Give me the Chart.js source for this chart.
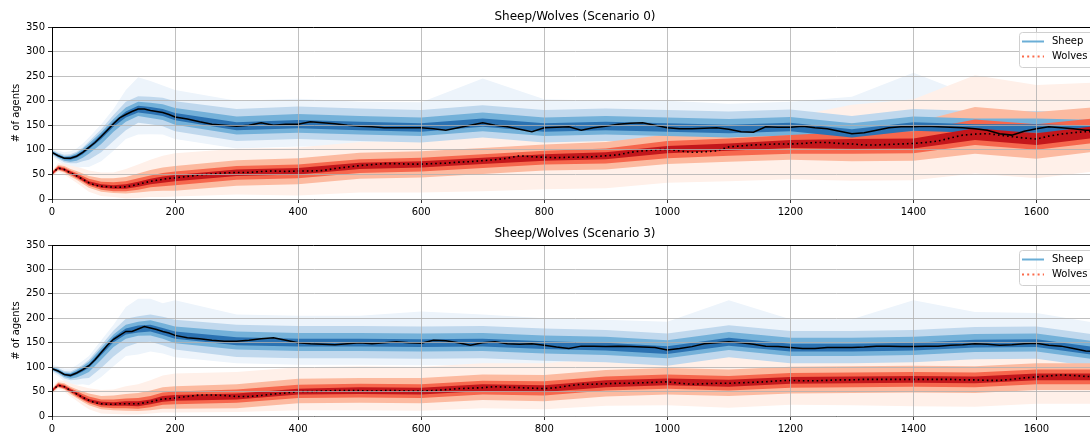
<!DOCTYPE html>
<html lang="en">
<head>
  <meta charset="UTF-8">
  <title>Sheep/Wolves</title>
  <script src="https://cdn.jsdelivr.net/npm/chart.js"></script>
  <style>
    html, body { margin: 0; padding: 0; background: #fff; overflow: hidden; width: 1090px; height: 437px; }
    canvas { position: absolute; left: 0; }
  </style>
</head>
<body>
  <canvas id="scen0" width="1110" height="218" style="top:0"></canvas>
  <canvas id="scen3" width="1110" height="219" style="top:218px"></canvas>
  <script>
    // time steps of the median lines
    const tFine = [0,10,20,30,40,50,60,70,80,90,100,110,120,130,140,150,160,170,180,190,200,
      220,240,260,280,300,320,340,360,380,400,
      420,440,460,480,500,520,540,560,580,600,
      620,640,660,680,700,720,740,760,780,800,
      820,840,860,880,900,920,940,960,980,1000,
      1020,1040,1060,1080,1100,1120,1140,1160,1180,1200,
      1220,1240,1260,1280,1300,1320,1340,1360,1380,1400,
      1420,1440,1460,1480,1500,1520,1540,1560,1580,1600,
      1620,1640,1660,1680,1700];
    // time steps of the quantile bands
    const tBand = [0,10,20,30,40,50,60,80,100,120,140,160,180,200,300,400,500,600,700,800,900,1000,1100,1200,1300,1400,1500,1600,1700];

    const seriesNames = ['Sheep', 'Wolves'];
    const titles = ['Sheep/Wolves (Scenario 0)', 'Sheep/Wolves (Scenario 3)'];
    const yTickVals = [0,50,100,150,200,250,300,350];
    const xTickVals = [0,200,400,600,800,1000,1200,1400,1600];

    // medians
    const sc0Sheep = [95,88,83,83,87,95,105,115,127,140,153,165,172,178,183,183,180,178,176,172,167,
      163,157,152,150,148,150,155,150,152,152,
      157,155,153,150,148,147,145,145,145,145,
      143,140,145,150,155,150,147,142,137,145,
      146,147,140,145,148,152,154,155,150,145,
      143,143,144,145,142,137,136,147,146,146,
      148,145,143,138,133,135,140,145,147,147,
      148,147,146,145,143,140,133,130,138,143,
      147,145,143,140,140];
    const sc0Wolves = [52,63,60,53,47,40,33,28,26,25,24,24,25,27,30,33,36,38,40,42,43,
      46,49,51,53,54,54,56,57,56,57,
      57,58,62,65,68,70,72,72,71,71,
      72,73,75,76,78,80,83,88,86,85,
      84,85,85,86,88,90,95,98,100,101,
      98,95,96,98,106,108,110,111,112,112,
      113,115,115,113,112,110,110,111,112,113,
      115,118,124,130,132,133,130,127,124,122,
      128,132,135,137,137];
    const sc3Sheep = [97,92,85,83,88,95,103,115,130,145,157,165,173,173,178,183,180,177,173,170,165,
      160,158,155,153,153,155,158,160,155,150,
      148,147,146,148,150,148,150,152,150,149,
      155,154,150,145,150,152,148,147,148,145,
      141,138,143,143,142,143,142,141,140,135,
      138,142,148,150,152,150,147,143,142,140,
      138,138,140,140,140,141,143,143,142,142,
      143,143,145,146,148,147,145,146,148,149,
      145,143,138,133,132];
    const sc3Wolves = [52,63,60,52,45,38,32,27,25,24,24,25,25,25,25,27,29,32,35,35,37,
      40,43,43,42,40,40,42,45,47,50,
      50,51,52,52,52,51,52,52,51,51,
      52,54,56,57,58,60,59,58,57,56,
      58,62,65,65,66,67,67,68,69,70,
      67,65,66,67,67,68,69,70,72,73,
      72,72,73,74,74,75,75,75,75,75,
      75,75,75,74,74,73,73,75,78,80,
      82,84,83,81,80];

    // band distances above / below the median, outer band first
    const sc0SheepUp = [
      [8,10,12,14,16,18,20,25,30,50,65,60,55,55,52,52,50,52,90,58,52,55,52,52,75,110,65,75,65],
      [5,6,7,8,9,10,12,15,18,26,26,28,30,32,35,36,36,36,36,36,36,36,36,36,36,36,36,36,36],
      [3,4,4,5,6,7,8,9,10,14,15,16,17,18,20,21,21,21,21,21,21,21,21,21,21,21,21,21,21],
      [2,2,2,3,3,3,3,4,4,6,7,7,7,8,8,9,9,9,9,9,9,9,9,9,9,9,9,9,9]];
    const sc0SheepDn = [
      [8,10,14,18,24,30,40,50,55,50,52,48,45,45,45,45,42,42,42,42,42,42,42,42,42,45,45,45,45],
      [5,6,8,10,14,18,25,32,35,32,28,28,28,29,30,30,30,30,30,30,30,30,30,30,30,30,30,30,30],
      [3,4,5,7,9,11,13,15,16,15,14,15,15,16,17,17,17,17,17,17,17,17,17,17,17,17,17,17,17],
      [2,2,2,3,3,4,4,5,6,6,7,7,7,7,8,8,8,8,8,8,8,8,8,8,8,8,8,8,8]];
    const sc0WolvesUp = [
      [6,10,12,15,18,22,25,28,30,36,40,44,48,50,48,48,48,48,48,45,48,50,50,55,80,90,120,110,100],
      [4,6,7,8,10,12,14,16,18,20,22,23,24,24,25,26,26,26,26,26,28,30,30,32,42,42,55,55,50],
      [3,4,4,5,6,7,8,9,10,11,12,12,13,13,13,13,13,13,13,13,15,17,17,18,25,25,30,30,28],
      [2,2,2,3,3,3,3,4,4,5,5,5,6,6,6,6,6,6,6,6,7,7,7,8,10,10,12,12,12]];
    const sc0WolvesDn = [
      [6,8,10,12,14,16,18,20,20,24,28,32,36,38,45,50,55,58,62,65,66,68,70,72,75,75,80,80,80],
      [4,5,6,7,8,9,10,11,12,14,17,20,23,26,27,27,27,27,27,27,28,30,30,32,35,35,40,40,40],
      [3,3,4,4,5,5,6,7,8,9,11,12,14,15,15,15,15,15,15,15,16,18,18,20,20,20,22,22,22],
      [2,2,2,2,2,3,3,3,3,4,5,6,7,7,7,7,7,7,7,7,7,8,8,8,10,10,12,12,12]];
    const sc3SheepUp = [
      [8,10,12,14,16,18,20,25,30,50,62,60,58,72,55,55,55,65,58,55,55,58,85,58,58,95,65,62,58],
      [5,6,7,8,9,10,12,15,18,26,26,28,30,32,34,34,34,34,34,34,34,34,34,34,34,34,34,34,34],
      [3,4,4,5,6,7,8,9,10,14,15,16,17,18,20,20,20,20,20,20,20,20,20,20,20,20,20,20,20],
      [2,2,2,3,3,3,3,4,4,6,7,7,7,8,8,8,8,8,8,8,8,8,8,8,8,8,8,8,8]];
    const sc3SheepDn = [
      [8,10,14,18,24,30,40,50,55,50,52,48,45,45,45,45,45,45,45,45,45,45,45,45,45,45,45,45,45],
      [5,6,8,10,14,18,25,32,35,32,28,28,28,29,32,32,32,32,32,32,32,32,32,32,32,32,32,32,32],
      [3,4,5,7,9,11,13,15,16,15,14,15,15,16,17,17,17,17,17,17,17,17,17,17,17,17,17,17,17],
      [2,2,2,3,3,4,4,5,6,6,7,7,7,7,8,8,8,8,8,8,8,8,8,8,8,8,8,8,8]];
    const sc3WolvesUp = [
      [6,10,12,15,18,22,25,28,30,36,40,44,48,50,50,50,50,50,50,52,52,52,55,55,55,58,58,60,60],
      [4,6,7,8,10,12,14,16,18,20,22,23,24,24,25,26,26,27,27,28,28,28,28,28,28,28,28,28,28],
      [3,4,4,5,6,7,8,9,10,11,12,12,13,13,14,14,14,14,14,15,15,15,15,15,15,15,15,15,15],
      [2,2,2,3,3,3,3,4,4,5,5,5,6,6,6,6,7,7,7,7,7,7,7,7,7,7,7,7,7]];
    const sc3WolvesDn = [
      [6,8,10,12,14,16,18,20,20,22,22,24,28,30,32,38,40,40,42,42,45,48,50,50,52,55,55,55,55],
      [4,5,6,7,8,9,10,11,12,14,15,17,20,22,24,24,25,25,25,26,26,26,26,27,27,27,27,27,27],
      [3,3,4,4,5,5,6,7,8,9,10,11,12,13,13,13,14,14,14,14,14,14,15,15,15,15,15,15,15],
      [2,2,2,2,2,3,3,3,3,4,5,5,6,6,6,6,7,7,7,7,7,7,7,7,7,7,7,7,7]];

    const blues = ['#edf4fb', '#c0d8ed', '#74b1d9', '#2b72b2'];
    const reds = ['#fff0e9', '#fcbaa0', '#f6674d', '#c3161b'];
    const legendColors = ['#6baed6', '#fb6a4a'];

    Chart.defaults.font.family = '"DejaVu Sans", sans-serif';
    Chart.defaults.font.size = 10;
    Chart.defaults.color = '#000';

    function bandPair(med, up, dn, k, color) {
      const medAt = t => med[tFine.indexOf(t)];
      const lo = {
        data: tBand.map((t, i) => ({x: t, y: Math.max(0, medAt(t) - dn[k][i])})),
        borderWidth: 0, pointRadius: 0, fill: false
      };
      const hi = {
        data: tBand.map((t, i) => ({x: t, y: medAt(t) + up[k][i]})),
        borderWidth: 0, pointRadius: 0, fill: '-1', backgroundColor: color
      };
      return [lo, hi];
    }

    function buildDatasets(sheep, wolves, sUp, sDn, wUp, wDn) {
      let sets = [];
      for (let k = 0; k < 4; k++) {
        sets = sets.concat(bandPair(sheep, sUp, sDn, k, blues[k]));
        sets = sets.concat(bandPair(wolves, wUp, wDn, k, reds[k]));
      }
      sets.push({
        label: seriesNames[0],
        data: tFine.map((t, i) => ({x: t, y: sheep[i]})),
        borderColor: '#000', borderWidth: 1.5, pointRadius: 0, fill: false
      });
      sets.push({
        label: seriesNames[1],
        data: tFine.map((t, i) => ({x: t, y: wolves[i]})),
        borderColor: '#000', borderWidth: 1.6, borderDash: [1.6, 3], pointRadius: 0, fill: false
      });
      // draw in array order
      sets.forEach((d, i) => { d.order = -i; });
      return sets;
    }

    const decor = {
      id: 'decor',
      afterDraw(chart, args, opts) {
        const {ctx, chartArea: a} = chart;
        ctx.save();
        ctx.strokeStyle = '#000';
        ctx.lineWidth = 1;
        ctx.beginPath();
        ctx.moveTo(a.left, Math.round(a.top) + 0.5);
        ctx.lineTo(a.right, Math.round(a.top) + 0.5);
        ctx.moveTo(Math.round(a.right) + 0.5, a.top);
        ctx.lineTo(Math.round(a.right) + 0.5, a.bottom);
        ctx.stroke();

        ctx.font = '12px "DejaVu Sans", sans-serif';
        ctx.fillStyle = '#000';
        ctx.textAlign = 'center';
        ctx.textBaseline = 'middle';
        ctx.fillText(opts.text, (a.left + a.right) / 2, opts.titleY);

        // legend, upper right inside the axes
        const bx = a.right - 79, by = a.top + 5, bw = 74, bh = 35;
        ctx.beginPath();
        ctx.roundRect(bx + 0.5, by + 0.5, bw, bh, 3);
        ctx.fillStyle = 'rgba(255,255,255,0.8)';
        ctx.fill();
        ctx.strokeStyle = '#d0d0d0';
        ctx.stroke();
        ctx.font = '10px "DejaVu Sans", sans-serif';
        ctx.textAlign = 'left';
        seriesNames.forEach((name, i) => {
          const y = by + 9.5 + i * 15;
          ctx.strokeStyle = legendColors[i];
          ctx.lineWidth = 2;
          ctx.setLineDash(i === 0 ? [] : [2, 3.2]);
          ctx.beginPath();
          ctx.moveTo(bx + 3, y);
          ctx.lineTo(bx + 25, y);
          ctx.stroke();
          ctx.setLineDash([]);
          ctx.fillStyle = '#000';
          ctx.fillText(name, bx + 33, y);
        });
        ctx.restore();
      }
    };

    function makeChart(id, idx, sheep, wolves, sUp, sDn, wUp, wDn, xAxisH, titleY) {
      new Chart(document.getElementById(id), {
        type: 'line',
        data: {datasets: buildDatasets(sheep, wolves, sUp, sDn, wUp, wDn)},
        plugins: [decor],
        options: {
          responsive: false,
          animation: false,
          devicePixelRatio: 1,
          layout: {padding: {top: 27, right: 12, left: 0, bottom: 0}},
          elements: {line: {tension: 0}},
          plugins: {
            legend: {display: false},
            tooltip: {enabled: false},
            decor: {text: titles[idx], titleY: titleY}
          },
          scales: {
            x: {
              type: 'linear', min: 0, max: 1700,
              afterBuildTicks: s => { s.ticks = xTickVals.map(v => ({value: v})); },
              afterFit: s => { s.height = xAxisH; },
              ticks: {padding: 3, maxRotation: 0, color: '#000', callback: v => String(v)},
              grid: {color: '#b0b0b0', lineWidth: 0.8, tickLength: 4, tickColor: '#000', z: 1},
              border: {color: '#000', width: 1, z: 1}
            },
            y: {
              min: 0, max: 350,
              afterBuildTicks: s => { s.ticks = yTickVals.map(v => ({value: v})); },
              afterFit: s => { s.width = 52; },
              ticks: {padding: 3, color: '#000', callback: v => String(v)},
              title: {display: true, text: '# of agents', padding: {top: 10, bottom: 0}, color: '#000'},
              grid: {color: '#b0b0b0', lineWidth: 0.8, tickLength: 4, tickColor: '#000', z: 1},
              border: {color: '#000', width: 1, z: 1}
            }
          }
        }
      });
    }

    makeChart('scen0', 0, sc0Sheep, sc0Wolves, sc0SheepUp, sc0SheepDn, sc0WolvesUp, sc0WolvesDn, 19, 17);
    makeChart('scen3', 1, sc3Sheep, sc3Wolves, sc3SheepUp, sc3SheepDn, sc3WolvesUp, sc3WolvesDn, 21, 16);
  </script>
</body>
</html>
